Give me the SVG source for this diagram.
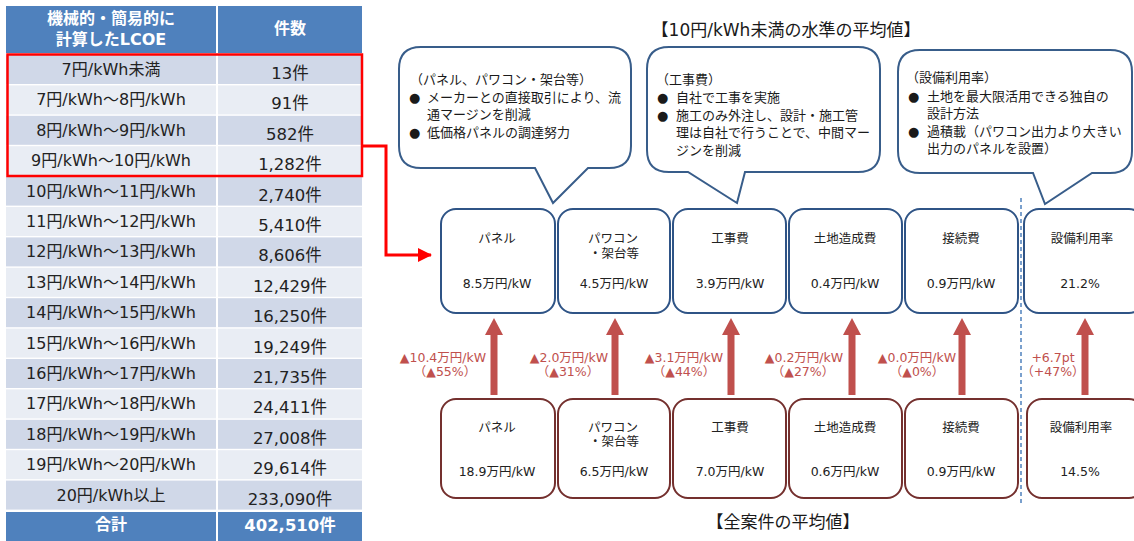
<svg xmlns="http://www.w3.org/2000/svg" width="1134" height="541" viewBox="0 0 1134 541">
<defs>
<style>
text{font-family:"DejaVu Sans","Noto Sans CJK JP",sans-serif;}
.hd{fill:#4F81BD;}
.dk{fill:#D0D8E8;}
.lt{fill:#E9EDF4;}
.ht{fill:#fff;font-weight:bold;font-size:16px;text-anchor:middle;}
.tl{fill:#222;font-size:16px;text-anchor:middle;}
.tr{fill:#222;font-size:16.5px;text-anchor:middle;}
.call{fill:#fff;stroke:#385D8A;stroke-width:2;}
.ct{fill:#1a1a1a;font-size:13px;}
.bt{fill:#fff;stroke:#2F5486;stroke-width:2;}
.bb{fill:#fff;stroke:#74302E;stroke-width:2;}
.bx{fill:#222;font-size:12.5px;text-anchor:middle;}
.al{fill:#C0504D;font-size:12.5px;text-anchor:middle;}
.arr{fill:#C0504D;}
.ttl{fill:#1a1a1a;font-size:17px;text-anchor:middle;}
</style>
<marker id="rh" markerWidth="14" markerHeight="14" refX="13" refY="7" orient="auto" markerUnits="userSpaceOnUse">
<path d="M0,0 L14,7 L0,14 Z" fill="#FF0000"/>
</marker>
</defs>
<rect width="1134" height="541" fill="#fff"/>

<g id="table">
<rect class="hd" x="6" y="6" width="210" height="47"/>
<rect class="hd" x="218" y="6" width="144" height="47"/>
<text class="ht" x="111" y="24">機械的・簡易的に</text>
<text class="ht" x="111" y="45">計算したLCOE</text>
<text class="ht" x="290" y="34">件数</text>

<rect class="dk" x="6" y="55" width="210" height="29"/><rect class="dk" x="218" y="55" width="144" height="29"/>
<rect class="lt" x="6" y="85.4" width="210" height="29"/><rect class="lt" x="218" y="85.4" width="144" height="29"/>
<rect class="dk" x="6" y="115.8" width="210" height="29"/><rect class="dk" x="218" y="115.8" width="144" height="29"/>
<rect class="lt" x="6" y="146.2" width="210" height="29"/><rect class="lt" x="218" y="146.2" width="144" height="29"/>
<rect class="dk" x="6" y="176.6" width="210" height="29"/><rect class="dk" x="218" y="176.6" width="144" height="29"/>
<rect class="lt" x="6" y="207" width="210" height="29"/><rect class="lt" x="218" y="207" width="144" height="29"/>
<rect class="dk" x="6" y="237.4" width="210" height="29"/><rect class="dk" x="218" y="237.4" width="144" height="29"/>
<rect class="lt" x="6" y="267.8" width="210" height="29"/><rect class="lt" x="218" y="267.8" width="144" height="29"/>
<rect class="dk" x="6" y="298.2" width="210" height="29"/><rect class="dk" x="218" y="298.2" width="144" height="29"/>
<rect class="lt" x="6" y="328.6" width="210" height="29"/><rect class="lt" x="218" y="328.6" width="144" height="29"/>
<rect class="dk" x="6" y="359" width="210" height="29"/><rect class="dk" x="218" y="359" width="144" height="29"/>
<rect class="lt" x="6" y="389.4" width="210" height="29"/><rect class="lt" x="218" y="389.4" width="144" height="29"/>
<rect class="dk" x="6" y="419.8" width="210" height="29"/><rect class="dk" x="218" y="419.8" width="144" height="29"/>
<rect class="lt" x="6" y="450.2" width="210" height="29"/><rect class="lt" x="218" y="450.2" width="144" height="29"/>
<rect class="dk" x="6" y="480.6" width="210" height="29"/><rect class="dk" x="218" y="480.6" width="144" height="29"/>
<rect class="hd" x="6" y="512" width="210" height="29"/><rect class="hd" x="218" y="512" width="144" height="29"/>

<text class="tl" x="111" y="75">7円/kWh未満</text><text class="tr" x="290" y="79">13件</text>
<text class="tl" x="111" y="105.4">7円/kWh～8円/kWh</text><text class="tr" x="290" y="109.4">91件</text>
<text class="tl" x="111" y="135.8">8円/kWh～9円/kWh</text><text class="tr" x="290" y="139.8">582件</text>
<text class="tl" x="111" y="166.2">9円/kWh～10円/kWh</text><text class="tr" x="290" y="170.2">1,282件</text>
<text class="tl" x="111" y="196.6">10円/kWh～11円/kWh</text><text class="tr" x="290" y="200.6">2,740件</text>
<text class="tl" x="111" y="227">11円/kWh～12円/kWh</text><text class="tr" x="290" y="231">5,410件</text>
<text class="tl" x="111" y="257.4">12円/kWh～13円/kWh</text><text class="tr" x="290" y="261.4">8,606件</text>
<text class="tl" x="111" y="287.8">13円/kWh～14円/kWh</text><text class="tr" x="290" y="291.8">12,429件</text>
<text class="tl" x="111" y="318.2">14円/kWh～15円/kWh</text><text class="tr" x="290" y="322.2">16,250件</text>
<text class="tl" x="111" y="348.6">15円/kWh～16円/kWh</text><text class="tr" x="290" y="352.6">19,249件</text>
<text class="tl" x="111" y="379">16円/kWh～17円/kWh</text><text class="tr" x="290" y="383">21,735件</text>
<text class="tl" x="111" y="409.4">17円/kWh～18円/kWh</text><text class="tr" x="290" y="413.4">24,411件</text>
<text class="tl" x="111" y="439.8">18円/kWh～19円/kWh</text><text class="tr" x="290" y="443.8">27,008件</text>
<text class="tl" x="111" y="470.2">19円/kWh～20円/kWh</text><text class="tr" x="290" y="474.2">29,614件</text>
<text class="tl" x="111" y="500.6">20円/kWh以上</text><text class="tr" x="290" y="504.6">233,090件</text>
<text class="ht" x="111" y="530">合計</text><text class="ht" x="290" y="531" style="font-size:16.5px">402,510件</text>

<rect x="7.5" y="54.5" width="354.5" height="121.5" fill="none" stroke="#FF0000" stroke-width="2.5"/>
</g>

<g id="titles">
<text class="ttl" x="786" y="36">【10円/kWh未満の水準の平均値】</text>
<text class="ttl" x="783" y="528">【全案件の平均値】</text>
</g>

<g id="callout1">
<path class="call" d="M421,47 H609 Q631,47 631,69 V146 Q631,168 609,168 H588 L553,203 L535,168 H421 Q399,168 399,146 V69 Q399,47 421,47 Z"/>
<text class="ct" x="410" y="84">（パネル、パワコン・架台等）</text>
<text class="ct" x="409" y="102">●</text><text class="ct" x="427" y="102">メーカーとの直接取引により、流</text>
<text class="ct" x="427" y="119">通マージンを削減</text>
<text class="ct" x="409" y="137">●</text><text class="ct" x="427" y="137">低価格パネルの調達努力</text>
</g>

<g id="callout2">
<path class="call" d="M669,47 H858 Q880,47 880,69 V150 Q880,172 858,172 H745 L737,203 L688,172 H669 Q647,172 647,150 V69 Q647,47 669,47 Z"/>
<text class="ct" x="656" y="84">（工事費）</text>
<text class="ct" x="657" y="102">●</text><text class="ct" x="676" y="102">自社で工事を実施</text>
<text class="ct" x="657" y="120">●</text><text class="ct" x="676" y="120">施工のみ外注し、設計・施工管</text>
<text class="ct" x="676" y="137">理は自社で行うことで、中間マー</text>
<text class="ct" x="676" y="155">ジンを削減</text>
</g>

<g id="callout3">
<path class="call" d="M920,50 H1110 Q1132,50 1132,72 V151 Q1132,173 1110,173 H1092 L1045,204 L1033,173 H920 Q898,173 898,151 V72 Q898,50 920,50 Z"/>
<text class="ct" x="906" y="82">（設備利用率）</text>
<text class="ct" x="908" y="101">●</text><text class="ct" x="927" y="101">土地を最大限活用できる独自の</text>
<text class="ct" x="927" y="118">設計方法</text>
<text class="ct" x="908" y="136">●</text><text class="ct" x="927" y="136">過積載（パワコン出力より大きい</text>
<text class="ct" x="927" y="153">出力のパネルを設置）</text>
</g>

<g id="top-panel">
<rect class="bt" x="441" y="209" width="114" height="104" rx="15"/>
<text class="bx" x="497" y="243">パネル</text>
<text class="bx" x="497" y="288">8.5万円/kW</text>
</g>
<g id="top-pcs">
<rect class="bt" x="558" y="209" width="112" height="104" rx="15"/>
<text class="bx" x="613" y="243">パワコン</text>
<text class="bx" x="614" y="258">・架台等</text>
<text class="bx" x="614" y="288">4.5万円/kW</text>
</g>
<g id="top-construction">
<rect class="bt" x="673" y="209" width="113" height="104" rx="15"/>
<text class="bx" x="730" y="243">工事費</text>
<text class="bx" x="730" y="288">3.9万円/kW</text>
</g>
<g id="top-land">
<rect class="bt" x="789" y="209" width="113" height="104" rx="15"/>
<text class="bx" x="845" y="243">土地造成費</text>
<text class="bx" x="845" y="288">0.4万円/kW</text>
</g>
<g id="top-grid">
<rect class="bt" x="905" y="209" width="113" height="104" rx="15"/>
<text class="bx" x="961" y="243">接続費</text>
<text class="bx" x="961" y="288">0.9万円/kW</text>
</g>
<g id="top-cf">
<rect class="bt" x="1024" y="209" width="120" height="104" rx="15"/>
<text class="bx" x="1082" y="243">設備利用率</text>
<text class="bx" x="1080" y="288">21.2%</text>
</g>

<g id="bot-panel">
<rect class="bb" x="441" y="399" width="114" height="99" rx="15"/>
<text class="bx" x="497" y="432">パネル</text>
<text class="bx" x="497" y="476">18.9万円/kW</text>
</g>
<g id="bot-pcs">
<rect class="bb" x="558" y="399" width="112" height="99" rx="15"/>
<text class="bx" x="613" y="432">パワコン</text>
<text class="bx" x="614" y="446">・架台等</text>
<text class="bx" x="614" y="476">6.5万円/kW</text>
</g>
<g id="bot-construction">
<rect class="bb" x="673" y="399" width="113" height="99" rx="15"/>
<text class="bx" x="730" y="432">工事費</text>
<text class="bx" x="730" y="476">7.0万円/kW</text>
</g>
<g id="bot-land">
<rect class="bb" x="789" y="399" width="113" height="99" rx="15"/>
<text class="bx" x="845" y="432">土地造成費</text>
<text class="bx" x="845" y="476">0.6万円/kW</text>
</g>
<g id="bot-grid">
<rect class="bb" x="905" y="399" width="113" height="99" rx="15"/>
<text class="bx" x="961" y="432">接続費</text>
<text class="bx" x="961" y="476">0.9万円/kW</text>
</g>
<g id="bot-cf">
<rect class="bb" x="1027" y="399" width="117" height="99" rx="15"/>
<text class="bx" x="1081" y="432">設備利用率</text>
<text class="bx" x="1080" y="476">14.5%</text>
</g>

<g id="connectors">
<path d="M362,146 H386 V255 H431" fill="none" stroke="#FF0000" stroke-width="3" marker-end="url(#rh)"/>
<line x1="1021" y1="198" x2="1021" y2="505" stroke="#4F81BD" stroke-width="1.5" stroke-dasharray="4 3"/>
<path class="arr" d="M494,318 L503,335 L497.5,335 L497.5,395 L490.5,395 L490.5,335 L485,335 Z"/>
<path class="arr" d="M615,318 L624,335 L618.5,335 L618.5,395 L611.5,395 L611.5,335 L606,335 Z"/>
<path class="arr" d="M731,318 L740,335 L734.5,335 L734.5,395 L727.5,395 L727.5,335 L722,335 Z"/>
<path class="arr" d="M852,318 L861,335 L855.5,335 L855.5,395 L848.5,395 L848.5,335 L843,335 Z"/>
<path class="arr" d="M962,318 L971,335 L965.5,335 L965.5,395 L958.5,395 L958.5,335 L953,335 Z"/>
<path class="arr" d="M1085,318 L1094,335 L1088.5,335 L1088.5,395 L1081.5,395 L1081.5,335 L1076,335 Z"/>
</g>

<g id="arrow-labels">
<text class="al" x="443" y="362">▲10.4万円/kW</text><text class="al" x="445" y="376">（▲55%）</text>
<text class="al" x="569" y="362">▲2.0万円/kW</text><text class="al" x="568" y="376">（▲31%）</text>
<text class="al" x="684" y="362">▲3.1万円/kW</text><text class="al" x="684" y="376">（▲44%）</text>
<text class="al" x="804" y="362">▲0.2万円/kW</text><text class="al" x="803" y="376">（▲27%）</text>
<text class="al" x="917" y="362">▲0.0万円/kW</text><text class="al" x="917" y="376">（▲0%）</text>
<text class="al" x="1053" y="362">+6.7pt</text><text class="al" x="1053" y="376">（+47%）</text>
</g>
</svg>
